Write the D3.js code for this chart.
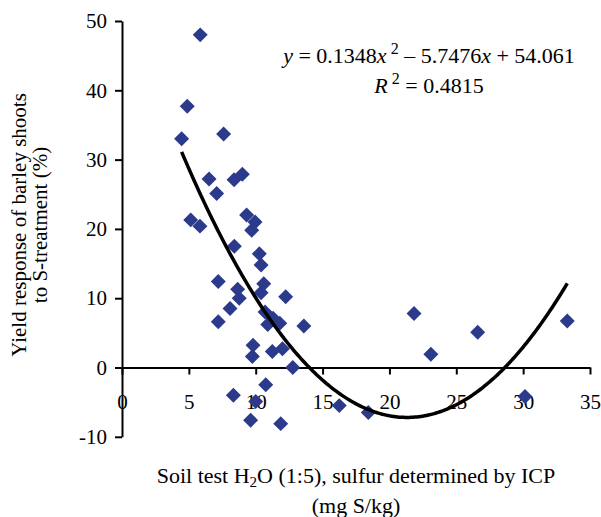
<!DOCTYPE html>
<html>
<head>
<meta charset="utf-8">
<script src="https://cdn.jsdelivr.net/npm/d3@7"></script>
<style>
  body { margin: 0; background: #fff; }
  svg { display: block; font-family: "Liberation Serif", "Times New Roman", serif; }
</style>
</head>
<body>
<div id="chart"></div>
<script>
// soil sulfur (mg S/kg) and yield response (%)
const soilS = [
  5.85, 4.88, 4.46, 7.6, 6.51, 8.38, 9.0, 7.08, 5.14, 5.83,
  9.32, 9.95, 9.7, 8.4, 10.27, 10.4, 7.2, 10.6, 8.65, 8.77,
  10.4, 12.24, 8.08, 7.2, 10.7, 11.3, 11.8, 10.9, 13.6, 9.8,
  9.75, 11.24, 12.0, 12.77, 10.75, 8.33, 10.0, 9.62, 11.87, 21.84,
  26.6, 23.1, 33.3, 16.25, 18.42, 30.14
]
const yieldResp = [
  48.0, 37.7, 33.0, 33.7, 27.2, 27.1, 27.9, 25.1, 21.3, 20.4,
  22.0, 21.0, 19.8, 17.5, 16.4, 14.8, 12.4, 12.1, 11.3, 10.0,
  10.8, 10.2, 8.5, 6.6, 8.0, 7.1, 6.4, 6.2, 6.0, 3.2,
  1.6, 2.3, 2.7, 0.0, -2.5, -4.0, -4.9, -7.6, -8.1, 7.8,
  5.1, 1.9, 6.7, -5.5, -6.5, -4.2
]
const xTicks = [0, 5, 10, 15, 20, 25, 30, 35]
const yTicks = [-10, 0, 10, 20, 30, 40, 50]
// trendline coefficients as printed on the chart
const trendCoef = [0.1348, -5.7476, 54.061]
const rSquared = "0.4815"

const width = 601, height = 517
const svg = d3.select("#chart").append("svg")
  .attr("width", width)
  .attr("height", height)

const x = d3.scaleLinear().domain([0, 35]).range([122, 590])
const y = d3.scaleLinear().domain([-10, 50]).range([436.8, 21])

const data = soilS.map((s, i) => ({ s, r: yieldResp[i] }))

// Axes
const xAxis = svg.append("g")
  .attr("transform", `translate(0,${y(0)})`)
  .call(d3.axisBottom(x).tickValues(xTicks).tickSize(7).tickSizeOuter(0).tickFormat(d => String(d)))
xAxis.select(".domain").attr("stroke-width", 2)
xAxis.selectAll(".tick line").attr("stroke-width", 2)
xAxis.selectAll("text")
  .attr("y", 41).attr("dy", 0)
  .attr("font-size", 21)
  .attr("font-family", "Liberation Serif, serif")

const yAxis = svg.append("g")
  .attr("transform", `translate(${x(0)},0)`)
  .call(d3.axisLeft(y).tickValues(yTicks).tickSize(7).tickSizeOuter(0).tickFormat(d => String(d)))
yAxis.select(".domain").attr("stroke-width", 2)
yAxis.selectAll(".tick line").attr("stroke-width", 2)
yAxis.selectAll("text")
  .attr("x", -15)
  .attr("font-size", 21)
  .attr("font-family", "Liberation Serif, serif")

// Points
const diamond = d3.symbol(d3.symbolSquare, 112)
svg.append("g").selectAll("path")
  .data(data)
  .join("path")
  .attr("d", diamond)
  .attr("transform", d => `translate(${x(d.s)},${y(d.r)}) rotate(45)`)
  .attr("fill", "#2c3a8c")

// Polynomial trendline over the data range
const [a, b, c] = trendCoef
const sMin = d3.min(soilS), sMax = d3.max(soilS)
const curve = d3.range(0, 201).map(i => {
  const s = sMin + (sMax - sMin) * i / 200
  return [s, a * s * s + b * s + c]
})
svg.append("path")
  .datum(curve)
  .attr("fill", "none")
  .attr("stroke", "#000")
  .attr("stroke-width", 3.5)
  .attr("d", d3.line().x(d => x(d[0])).y(d => y(d[1])))

// Equation
const eq = svg.append("g").attr("font-size", 22).attr("text-anchor", "middle")
const l1 = eq.append("text").attr("x", 429).attr("y", 63)
l1.append("tspan").attr("font-style", "italic").text("y")
l1.append("tspan").text(" = 0.1348")
l1.append("tspan").attr("font-style", "italic").text("x")
l1.append("tspan").attr("dy", -9).attr("font-size", 16).text(" 2")
l1.append("tspan").attr("dy", 9).text(" \u2013 5.7476")
l1.append("tspan").attr("font-style", "italic").text("x")
l1.append("tspan").text(" + 54.061")

const l2 = eq.append("text").attr("x", 429).attr("y", 93)
l2.append("tspan").attr("font-style", "italic").text("R")
l2.append("tspan").attr("dy", -9).attr("font-size", 16).text(" 2")
l2.append("tspan").attr("dy", 9).text(" = " + rSquared)

// Axis titles
const yTitle = svg.append("text")
  .attr("transform", "translate(26,225) rotate(-90)")
  .attr("text-anchor", "middle")
  .attr("font-size", 21)
yTitle.append("tspan").attr("x", 0).attr("y", 0).text("Yield response of barley shoots")
yTitle.append("tspan").attr("x", 0).attr("y", 21).text("to S-treatment (%)")

const xTitle = svg.append("text")
  .attr("text-anchor", "middle")
  .attr("font-size", 22)
  .attr("x", 356).attr("y", 483)
xTitle.append("tspan").text("Soil test H")
xTitle.append("tspan").attr("font-size", 15).attr("dy", 4).text("2")
xTitle.append("tspan").attr("dy", -4).text("O (1:5), sulfur determined by ICP")
svg.append("text")
  .attr("text-anchor", "middle")
  .attr("font-size", 22)
  .attr("x", 356).attr("y", 513)
  .text("(mg S/kg)")
</script>
</body>
</html>
